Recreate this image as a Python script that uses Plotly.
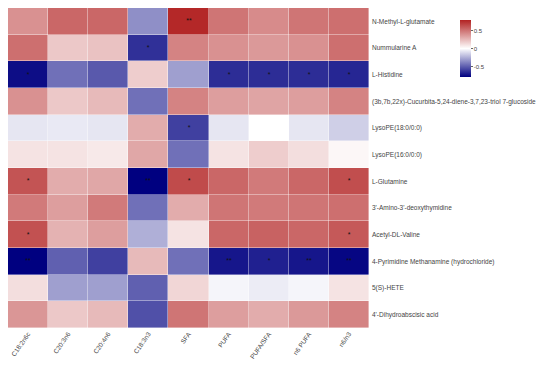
import plotly.graph_objects as go

columns = ["C18:2n6c", "C20:3n6", "C20:4n6", "C18:3n3", "SFA", "PUFA", "PUFA/SFA", "n6 PUFA", "n6/n3"]
rows = [
    "N-Methyl-L-glutamate",
    "Nummularine A",
    "L-Histidine",
    "(3b,7b,22x)-Cucurbita-5,24-diene-3,7,23-triol 7-glucoside",
    "LysoPE(18:0/0:0)",
    "LysoPE(16:0/0:0)",
    "L-Glutamine",
    "3'-Amino-3'-deoxythymidine",
    "Acetyl-DL-Valine",
    "4-Pyrimidine Methanamine (hydrochloride)",
    "5(S)-HETE",
    "4'-Dihydroabscisic acid",
]

values = [
    [0.40, 0.55, 0.55, -0.35, 0.78, 0.50, 0.42, 0.50, 0.52],
    [0.52, 0.20, 0.22, -0.65, 0.45, 0.40, 0.37, 0.40, 0.52],
    [-0.76, -0.45, -0.52, 0.18, -0.30, -0.66, -0.66, -0.66, -0.68],
    [0.40, 0.20, 0.25, -0.45, 0.45, 0.35, 0.33, 0.35, 0.45],
    [-0.08, -0.07, -0.08, 0.30, -0.60, -0.08, 0.00, -0.08, -0.15],
    [0.10, 0.10, 0.08, 0.32, -0.45, 0.10, 0.18, 0.12, 0.03],
    [0.62, 0.30, 0.32, -0.80, 0.65, 0.55, 0.48, 0.55, 0.64],
    [0.48, 0.35, 0.48, -0.45, 0.30, 0.50, 0.48, 0.50, 0.52],
    [0.63, 0.28, 0.35, -0.25, 0.10, 0.55, 0.57, 0.55, 0.60],
    [-0.82, -0.50, -0.60, 0.25, -0.45, -0.73, -0.70, -0.73, -0.78],
    [0.12, -0.30, -0.30, -0.50, 0.15, -0.03, -0.06, -0.03, 0.10],
    [0.38, 0.20, 0.25, -0.55, 0.50, 0.35, 0.30, 0.37, 0.45],
]

stars = [
    ["", "", "", "", "**", "", "", "", ""],
    ["", "", "", "*", "", "", "", "", ""],
    ["*", "", "", "", "", "*", "*", "*", "*"],
    ["", "", "", "", "", "", "", "", ""],
    ["", "", "", "", "*", "", "", "", ""],
    ["", "", "", "", "", "", "", "", ""],
    ["*", "", "", "**", "*", "", "", "", "*"],
    ["", "", "", "", "", "", "", "", ""],
    ["*", "", "", "", "", "", "", "", "*"],
    ["**", "", "", "", "", "**", "*", "**", "**"],
    ["", "", "", "", "", "", "", "", ""],
    ["", "", "", "", "", "", "", "", ""],
]

colorscale = [[0.0, "#000080"], [0.5, "#FFFFFF"], [1.0, "#B22222"]]

fig = go.Figure(
    go.Heatmap(
        z=values,
        x=columns,
        y=rows,
        text=stars,
        texttemplate="%{text}",
        textfont=dict(size=7, color="#111111"),
        colorscale=colorscale,
        zmin=-0.8,
        zmax=0.8,
        xgap=0.4,
        ygap=0.4,
        colorbar=dict(
            x=1.252,
            xanchor="left",
            xpad=0,
            ypad=0,
            y=0.873,
            yanchor="middle",
            len=57,
            lenmode="pixels",
            thickness=11,
            outlinewidth=0,
            tickvals=[-0.5, 0, 0.5],
            ticktext=["-0.5", "0", "0.5"],
            ticks="outside",
            ticklen=2,
            tickcolor="#666666",
            tickfont=dict(size=6, color="#444444", family="Liberation Sans, Arial"),
        ),
    )
)

fig.update_layout(
    width=542,
    height=352,
    margin=dict(l=0, r=181, t=0, b=32, autoexpand=False),
    plot_bgcolor="white",
    paper_bgcolor="white",
    font=dict(family="Liberation Sans, Arial", size=6.5, color="#444444"),
)
fig.update_xaxes(
    tickangle=-55,
    showgrid=False,
    zeroline=False,
    ticks="",
    automargin=False,
    tickfont=dict(size=6.5, color="#444444"),
)
fig.update_yaxes(
    side="right",
    autorange="reversed",
    showgrid=False,
    zeroline=False,
    ticks="",
    automargin=False,
    ticklabelstandoff=2,
    tickfont=dict(size=6.5, color="#444444"),
)

fig.write_html("out.html")
